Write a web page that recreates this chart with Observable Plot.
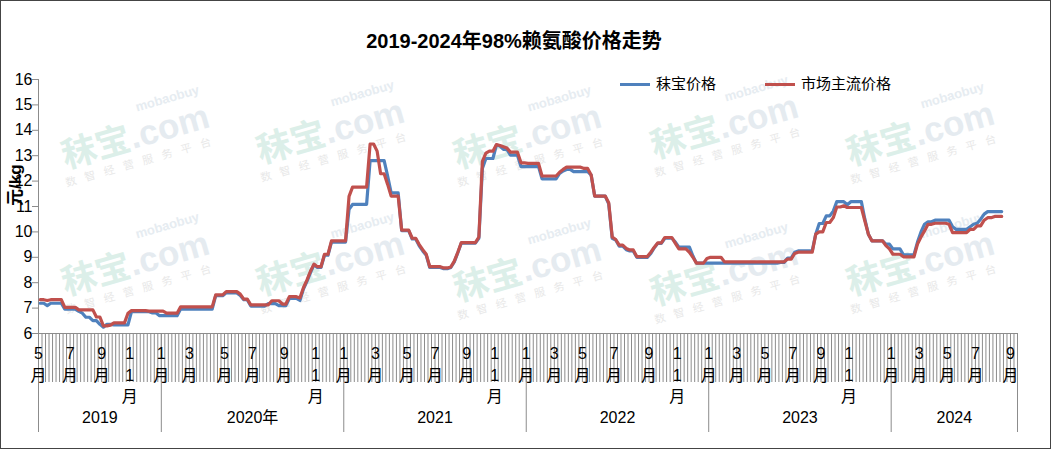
<!DOCTYPE html>
<html><head><meta charset="utf-8">
<script src="https://cdn.jsdelivr.net/npm/d3@7"></script>
<script src="https://cdn.jsdelivr.net/npm/@observablehq/plot@0.6"></script>
<style>
body{margin:0;background:#fff;}
#wrap{position:relative;width:1051px;height:450px;overflow:hidden;font-family:"Liberation Sans","Noto Sans CJK SC",sans-serif;background:#fff;}
#border{position:absolute;left:0;top:0;width:1051px;height:449px;box-sizing:border-box;border:1px solid #444;pointer-events:none;z-index:5;}
#title{position:absolute;left:0;top:25px;width:1028px;text-align:center;font-size:20px;font-weight:bold;color:#000;z-index:3;}
.leg{position:absolute;top:75px;font-size:15px;color:#000;z-index:3;white-space:nowrap;line-height:18px;}
.leg .sw{display:inline-block;width:30px;height:3px;vertical-align:middle;margin-right:6px;position:relative;top:-1px;}
.wm{position:absolute;transform:translate(-50%,-50%) rotate(-16deg);text-align:center;z-index:0;white-space:nowrap;}
.wm1{font-size:13px;font-weight:bold;color:#e6ecf1;text-align:right;padding-right:6px;line-height:13px;}
.wm2{font-size:35px;font-weight:bold;line-height:36px;}
.wm2 .t{color:#dcefe9;font-family:"Noto Sans CJK SC";}
.wm2 .c{color:#e5ebf0;}
.wm3{font-size:11px;color:#e8e8e8;letter-spacing:9px;line-height:14px;font-family:"Noto Sans CJK SC";}
#chart{position:absolute;left:0;top:0;z-index:2;}
</style>
</head><body>
<div id="wrap">
  <div id="wms"></div>
  <div id="chart"></div>
  <div id="title">2019-2024年98%赖氨酸价格走势</div>
  <div class="leg" style="left:620px"><span class="sw" style="background:#4F81BD"></span>秣宝价格</div>
  <div class="leg" style="left:765px"><span class="sw" style="background:#C0504D"></span>市场主流价格</div>
  <div id="border"></div>
</div>
<script>
// ---- data (weekly, May 2019 – Aug 2024) ----
const yearWeeks  = [35, 52, 52, 52, 52, 36];
const yearLabels = ["2019", "2020年", "2021", "2022", "2023", "2024"];
const monthTicks = [0,9,18,26, 35,43,53,61,70,79, 87,96,105,113,122,130, 139,147,155,164,174,182, 191,199,207,215,223,231, 243,251,259,267,277];
const monthLabels = ["5月","7月","9月","11月", "1月","3月","5月","7月","9月","11月", "1月","3月","5月","7月","9月","11月", "1月","3月","5月","7月","9月","11月", "1月","3月","5月","7月","9月","11月", "1月","3月","5月","7月","9月"];
const yTicks = [6,7,8,9,10,11,12,13,14,15,16];
const seriesNames = ["秣宝价格", "市场主流价格"];
const seriesColors = ["#4F81BD", "#C0504D"];

const mobao2019 = [7.19,7.19,7.10,7.19,7.19,7.19,7.19, 6.96,6.96,6.96,6.96, 6.87,6.80,6.64,6.64, 6.51,6.51,6.36,6.25,6.36,6.36, 6.34,6.34,6.34,6.34,6.34, 6.86,6.86,6.86,6.86,6.86,6.86, 6.81,6.81,6.70];
const mobao2020 = [6.70,6.70,6.70,6.70,6.70, 6.96,6.96,6.96,6.96,6.96,6.96,6.96,6.96,6.96,6.96, 7.49,7.49,7.49, 7.60,7.60,7.60,7.60, 7.50,7.33,7.33, 7.08,7.08,7.08,7.08,7.08, 7.18,7.18,7.18, 7.10,7.10,7.10, 7.38,7.38,7.38, 7.30,7.75,8.05,8.40,8.70, 8.60,8.60,9.08,9.08, 9.60,9.60,9.60,9.60];
const mobao2021 = [9.60,10.89, 11.08,11.08,11.08,11.08,11.08, 12.81,12.81,12.81,12.81,12.81, 12.20,11.54,11.54,11.54, 10.05,10.05,10.05, 9.72,9.72,9.45,9.25,9.08, 8.60,8.60,8.60,8.60, 8.55,8.55,8.60,8.82,9.18, 9.56,9.56,9.56,9.56,9.56, 9.75,12.50,12.89,12.89,12.89, 13.42,13.38,13.25,13.25, 13.02,13.02,13.02, 12.57,12.57];
const mobao2022 = [12.57,12.57,12.57,12.57, 12.09,12.09,12.09,12.09,12.09, 12.30,12.40,12.46,12.46, 12.37,12.37,12.37,12.37,12.37, 12.24,11.41,11.41,11.41,11.41, 11.10,9.75,9.68,9.44,9.44, 9.30,9.25,9.25, 9.00,9.00,9.00,9.00, 9.15,9.38,9.55,9.55, 9.75,9.75,9.75, 9.60,9.40,9.40,9.40,9.40, 9.05,8.77,8.77,8.77,8.77];
const mobao2023 = [8.77,8.77,8.77,8.77,8.77,8.77,8.77,8.77,8.77,8.77,8.77,8.77,8.77,8.77,8.77,8.77,8.77,8.77,8.77,8.77, 8.80,8.80,8.97,8.97,9.20, 9.25,9.25,9.25,9.25,9.25, 9.91,10.33,10.33,10.63,10.63,10.82, 11.19,11.19,11.19,11.07, 11.19,11.19,11.19,11.19, 10.50,9.91, 9.65,9.65,9.65,9.65, 9.52,9.52];
const mobao2024 = [9.33,9.33,9.33, 9.10,9.10,9.10,9.10, 9.60,10.00,10.30,10.40,10.40, 10.46,10.46,10.46,10.46,10.46, 10.20,10.10,10.10,10.10,10.10, 10.20,10.30,10.34,10.50,10.70, 10.80,10.80,10.80,10.80,10.80];

const market2019 = [7.33,7.33,7.30,7.33,7.33,7.33,7.33, 7.03,7.03,7.03,7.03, 6.93,6.93,6.93,6.93,6.93, 6.65,6.65,6.30,6.30,6.33, 6.42,6.42,6.42,6.42, 6.80, 6.90,6.90,6.90,6.90,6.90, 6.88,6.88,6.88,6.88];
const market2020 = [6.88, 6.80,6.80,6.80,6.80, 7.05,7.05,7.05,7.05,7.05,7.05,7.05,7.05,7.05,7.05, 7.52,7.52,7.52, 7.65,7.65,7.65,7.65, 7.55, 7.35,7.35, 7.13,7.13,7.13,7.13,7.13,7.13, 7.29,7.29,7.29, 7.16,7.16, 7.45,7.45,7.45, 7.40,7.80,8.10,8.45,8.73, 8.63,8.63, 9.12,9.12, 9.65,9.65,9.65,9.65];
const market2021 = [9.65,11.40, 11.76,11.76,11.76,11.76,11.76, 13.46,13.46,13.18, 12.29,12.29,11.87, 11.41,11.41,11.41, 10.07,10.07,10.07, 9.75,9.75,9.50,9.30,9.12, 8.63,8.63,8.63,8.63, 8.58,8.58,8.62,8.85,9.20, 9.58,9.58,9.58,9.58,9.58, 9.80,12.78,13.10,13.18,13.18, 13.44,13.40,13.35,13.30, 13.14,13.14,13.14, 12.72,12.72];
const market2022 = [12.70,12.70,12.70,12.70, 12.20,12.20,12.20,12.20,12.20, 12.35,12.46, 12.55,12.55,12.55,12.55,12.55, 12.50,12.50,12.24, 11.41,11.41,11.41,11.41, 11.15,9.80,9.70,9.48,9.48, 9.35,9.29,9.29, 9.03,9.03,9.03,9.03, 9.20,9.40,9.57,9.57, 9.78,9.78,9.78, 9.55,9.33,9.33,9.33, 9.20,9.00, 8.77,8.77,8.77,8.95];
const market2023 = [9.00,9.00,9.00,9.00, 8.82,8.82,8.82,8.82,8.82,8.82,8.82,8.82,8.82,8.82,8.82,8.82,8.82,8.82,8.82,8.82,8.82,8.82, 8.93,8.93,9.15, 9.20,9.20,9.20,9.20,9.20, 9.91,10.00,10.00, 10.37,10.37,10.56, 10.98,10.98,11.03, 10.96,10.96,10.96,10.96,10.96, 10.43,9.91, 9.65,9.65,9.65,9.65, 9.46,9.33];
const market2024 = [9.12,9.12,9.12, 9.02,9.02,9.02,9.02, 9.52,9.80,10.04, 10.30,10.30, 10.34,10.34,10.34,10.34, 10.30, 9.97,9.97,9.97,9.97,9.97, 10.10,10.10,10.24,10.24, 10.46,10.56,10.56, 10.61,10.61,10.61];

const mobao  = [].concat(mobao2019, mobao2020, mobao2021, mobao2022, mobao2023, mobao2024);
const market = [].concat(market2019, market2020, market2021, market2022, market2023, market2024);

// ---- watermark decoration (background only) ----
const wmCenters = [[135,135],[330,130],[527,135],[724,125],[920,132],[135,262],[330,262],[527,268],[724,272],[920,262]];
const wms = document.getElementById("wms");
wmCenters.forEach(([x,y]) => {
  const d = document.createElement("div");
  d.className = "wm";
  d.style.left = x + "px"; d.style.top = y + "px";
  d.innerHTML = '<div class="wm1">mobaobuy</div><div class="wm2"><span class="t">秣宝</span><span class="c">.com</span></div><div class="wm3">数智经营服务平台</div>';
  wms.appendChild(d);
});

// ---- chart ----
const bounds = [0];
yearWeeks.forEach(n => bounds.push(bounds[bounds.length - 1] + n));
const nWeeks = bounds[bounds.length - 1];
const rows = [];
mobao.forEach((v, i) => rows.push({i, v, s: seriesNames[0]}));
market.forEach((v, i) => rows.push({i, v, s: seriesNames[1]}));

const chart = Plot.plot({
  width: 1051, height: 450,
  marginLeft: 38, marginRight: 34, marginTop: 79, marginBottom: 117,
  style: {background: "transparent", fontFamily: '"Liberation Sans","Noto Sans CJK SC",sans-serif', fontSize: "16px", color: "#000", overflow: "visible"},
  x: {type: "linear", domain: [0, nWeeks], axis: null},
  y: {domain: [6, 16], axis: null},
  marks: [
    Plot.axisX({ticks: d3.range(0, nWeeks + 1), tickSize: 49, tickFormat: () => "", stroke: "#8c8c8c", label: null}),
    Plot.axisX({ticks: bounds, tickSize: 99, tickFormat: () => "", stroke: "#8c8c8c", label: null}),
    Plot.ruleY([6], {stroke: "#8c8c8c"}),
    Plot.ruleX([0], {stroke: "#8c8c8c"}),
    Plot.axisY({ticks: yTicks, tickSize: 6, tickPadding: 0, fontSize: 16, stroke: "#8c8c8c", fill: "#000", tickFormat: d => String(d), label: null}),
    Plot.text(monthTicks, {x: d => d, y: () => 6, text: (d, k) => monthLabels[k].split("").join("\n"), lineAnchor: "top", dy: 11, lineHeight: 1.32, fontSize: 16, fill: "#000"}),
    Plot.text(yearLabels, {x: (d, k) => (bounds[k] + bounds[k + 1]) / 2, y: () => 6, text: d => d, dy: 84, fontSize: 16, fill: "#000"}),
    Plot.text(["元/kg"], {y: () => 11.02, frameAnchor: "left", dx: -23, rotate: -90, fontSize: 17, fontWeight: "bold", fill: "#000"}),
    Plot.line(rows.filter(d => d.s === seriesNames[0]), {x: d => d.i + 0.5, y: "v", stroke: seriesColors[0], strokeWidth: 3.2, strokeLinejoin: "round"}),
    Plot.line(rows.filter(d => d.s === seriesNames[1]), {x: d => d.i + 0.5, y: "v", stroke: seriesColors[1], strokeWidth: 3.2, strokeLinejoin: "round"})
  ]
});
document.getElementById("chart").appendChild(chart);
</script>
</body></html>
